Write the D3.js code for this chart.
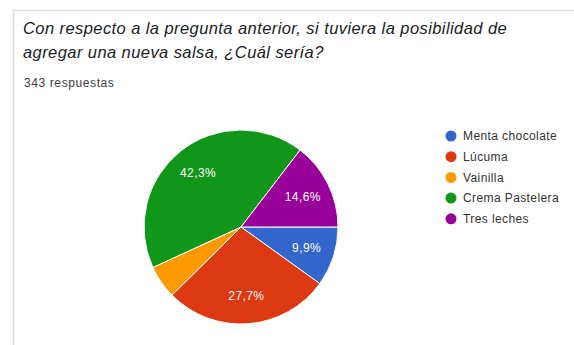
<!DOCTYPE html>
<html>
<head>
<meta charset="utf-8">
<script src="https://cdn.jsdelivr.net/npm/d3@7"></script>
<style>
  html, body { margin: 0; padding: 0; background: #fff; }
  svg { display: block; }
  text { font-family: "Liberation Sans", Arial, Helvetica, sans-serif; }
</style>
</head>
<body>
<svg id="chart" width="574" height="345"></svg>
<script>
// Survey question and answers
const titleLines = [
  "Con respecto a la pregunta anterior, si tuviera la posibilidad de",
  "agregar una nueva salsa, ¿Cuál sería?"
];
const responsesLabel = "343 respuestas";
const categories = ["Menta chocolate", "Lúcuma", "Vainilla", "Crema Pastelera", "Tres leches"];
const counts = [34, 95, 19, 145, 50];
const colors = ["#3366cc", "#dc3912", "#ff9900", "#109618", "#990099"];

const svg = d3.select("#chart");
const W = 574, H = 345;

// Card outline (top and left edges visible)
svg.append("path")
  .attr("d", `M13.5,${H} L13.5,10.5 L${W},10.5`)
  .attr("fill", "none")
  .attr("stroke", "#dadce0")
  .attr("stroke-width", 1.5);

// Title
const title = svg.append("text")
  .attr("fill", "#202124")
  .attr("font-size", 16.5)
  .attr("letter-spacing", 0.42)
  .attr("font-style", "italic");
titleLines.forEach((line, i) => {
  title.append("tspan").attr("x", 23).attr("y", 33.5 + i * 24.5).text(line);
});

svg.append("text")
  .attr("x", 24).attr("y", 87)
  .attr("fill", "#3c4043")
  .attr("font-size", 12)
  .attr("letter-spacing", 0.6)
  .text(responsesLabel);

// Pie
const cx = 241, cy = 227, r = 97;
const total = d3.sum(counts);
const data = categories.map((c, i) => ({ name: c, value: counts[i], color: colors[i] }));

const pie = d3.pie()
  .value(d => d.value)
  .sort(null)
  .startAngle(Math.PI / 2)
  .endAngle(Math.PI / 2 + 2 * Math.PI);

const arc = d3.arc().innerRadius(0).outerRadius(r);
const labelArc = d3.arc().innerRadius(r * 0.71).outerRadius(r * 0.71);

const g = svg.append("g").attr("transform", `translate(${cx},${cy})`);
const arcs = pie(data);

g.selectAll("path.slice")
  .data(arcs)
  .join("path")
  .attr("class", "slice")
  .attr("d", arc)
  .attr("fill", d => d.data.color)
  .attr("stroke", "#ffffff")
  .attr("stroke-width", 1);

const fmt = v => (v * 100).toFixed(1).replace(".", ",") + "%";

g.selectAll("text.pct")
  .data(arcs.filter(d => d.data.value / total >= 0.06))
  .join("text")
  .attr("class", "pct")
  .attr("transform", d => `translate(${labelArc.centroid(d)})`)
  .attr("text-anchor", "middle")
  .attr("dy", "0.35em")
  .attr("fill", "#ffffff")
  .attr("font-size", 12)
  .attr("letter-spacing", 0.4)
  .text(d => fmt(d.data.value / total));

// Legend
const legend = svg.append("g");
const rows = legend.selectAll("g")
  .data(data)
  .join("g")
  .attr("transform", (d, i) => `translate(451,${136 + i * 20.7})`);

rows.append("circle")
  .attr("r", 5.5)
  .attr("fill", d => d.color);

rows.append("text")
  .attr("x", 12)
  .attr("dy", "0.35em")
  .attr("fill", "#333333")
  .attr("font-size", 12)
  .attr("letter-spacing", 0.4)
  .text(d => d.name);
</script>
</body>
</html>
